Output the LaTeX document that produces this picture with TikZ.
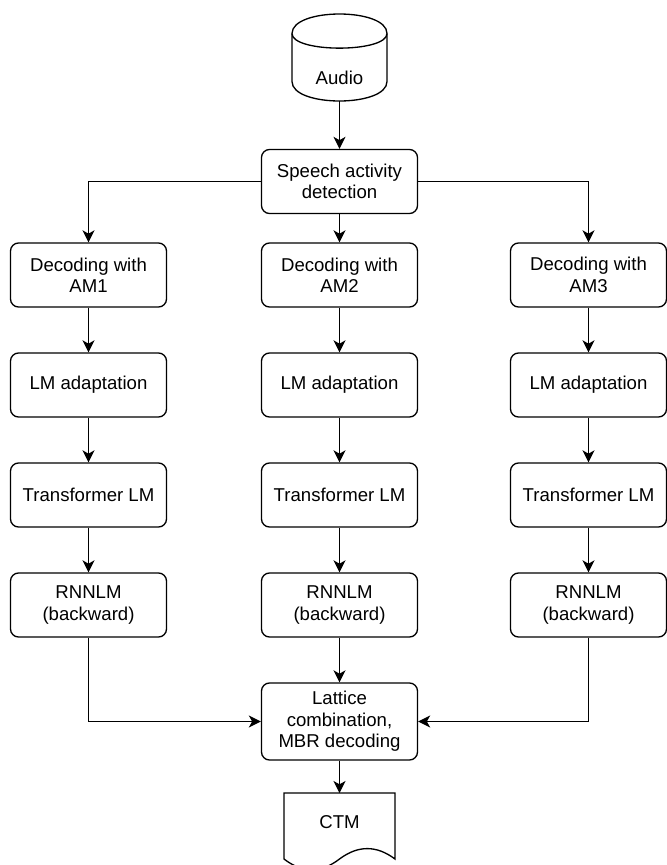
\documentclass[tikz,border=0pt]{standalone}
\usepackage{fontspec}
\setmainfont{Liberation Sans}
\usetikzlibrary{arrows.meta}
\tikzset{
  block/.style={draw, line width=1pt, rounded corners=6pt, align=center, minimum width=117pt, minimum height=48pt, inner sep=0pt},
  flow/.style={draw, line width=1pt, -{Stealth[length=9pt,width=9pt,inset=2.5pt]}}
}

\begin{document}
\begin{tikzpicture}[x=0.75pt, y=-0.75pt, font=\fontsize{13.95pt}{16pt}\selectfont]
\useasboundingbox (0,0) rectangle (667,865);
% audio source
\draw[line width=1pt] (292,33.5) .. controls (292,7.5) and (387,7.5) .. (387,33.5) -- (387,81.5) .. controls (387,107.5) and (292,107.5) .. (292,81.5) -- cycle;
\draw[line width=1pt] (292,33.5) .. controls (292,53) and (387,53) .. (387,33.5);
\node (audio) at (339.5,78) {Audio};
\coordinate (audiobot) at (339.5,101);
% front end
\node[block] (sad) at (339.5,181.5) {Speech activity\\detection};
% branch 1
\node[block] (dec1) at (88.5,275) {Decoding with\\AM1};
\node[block] (adapt1) at (88.5,385) {LM adaptation};
\node[block] (trans1) at (88.5,495) {Transformer LM};
\node[block] (rnn1) at (88.5,605) {RNNLM\\(backward)};
% branch 2
\node[block] (dec2) at (339.5,275) {Decoding with\\AM2};
\node[block] (adapt2) at (339.5,385) {LM adaptation};
\node[block] (trans2) at (339.5,495) {Transformer LM};
\node[block] (rnn2) at (339.5,605) {RNNLM\\(backward)};
% branch 3
\node[block] (dec3) at (588.5,275) {Decoding with\\AM3};
\node[block] (adapt3) at (588.5,385) {LM adaptation};
\node[block] (trans3) at (588.5,495) {Transformer LM};
\node[block] (rnn3) at (588.5,605) {RNNLM\\(backward)};
% combination
\node[block, minimum height=57.75pt] (lat) at (339.5,721.5) {Lattice\\combination,\\MBR decoding};
% output document
\draw[line width=1pt] (284,793) -- (395,793) -- (395,859) .. controls (376.5,845.13) and (358,845.13) .. (339.5,859) .. controls (321,873.27) and (302.5,873.27) .. (284,859) -- cycle;
\node (ctm) at (339.5,822) {CTM};
\coordinate (ctmtop) at (339.5,793);
% arrows
\draw[flow] (audiobot) -- (sad);
\draw[flow] (sad.west) -| (dec1);
\draw[flow] (sad) -- (dec2);
\draw[flow] (sad.east) -| (dec3);
\draw[flow] (dec1) -- (adapt1);
\draw[flow] (adapt1) -- (trans1);
\draw[flow] (trans1) -- (rnn1);
\draw[flow] (dec2) -- (adapt2);
\draw[flow] (adapt2) -- (trans2);
\draw[flow] (trans2) -- (rnn2);
\draw[flow] (dec3) -- (adapt3);
\draw[flow] (adapt3) -- (trans3);
\draw[flow] (trans3) -- (rnn3);
\draw[flow] (rnn1) |- (lat.west);
\draw[flow] (rnn2) -- (lat);
\draw[flow] (rnn3) |- (lat.east);
\draw[flow] (lat) -- (ctmtop);

\end{tikzpicture}
\end{document}
